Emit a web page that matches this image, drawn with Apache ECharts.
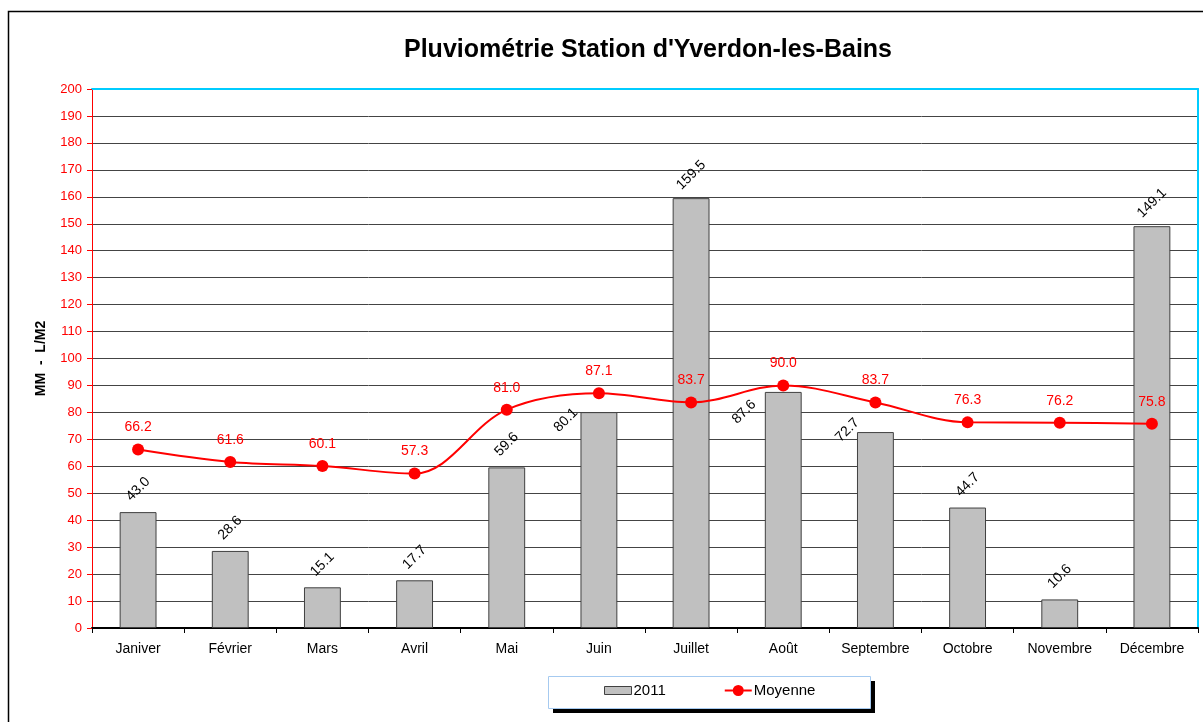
<!DOCTYPE html>
<html>
<head>
<meta charset="utf-8">
<title>Pluviométrie Station d'Yverdon-les-Bains</title>
<script src="https://cdn.jsdelivr.net/npm/echarts@6/dist/echarts.min.js"></script>
<style>
  html, body { margin: 0; padding: 0; background: #fff; }
  #chart { width: 1203px; height: 722px; }
</style>
</head>
<body>
<div id="chart"></div>
<script>
// données mensuelles
const months = ['Janiver', 'Février', 'Mars', 'Avril', 'Mai', 'Juin', 'Juillet', 'Août', 'Septembre', 'Octobre', 'Novembre', 'Décembre']
const rain2011 = [43.0, 28.6, 15.1, 17.7, 59.6, 80.1, 159.5, 87.6, 72.7, 44.7, 10.6, 149.1]
const moyenne = [66.2, 61.6, 60.1, 57.3, 81.0, 87.1, 83.7, 90.0, 83.7, 76.3, 76.2, 75.8]

const FONT = '"Liberation Sans", Arial, sans-serif'
const LABEL_ROTATE = 45

// décalage écran des étiquettes de barres (dx, dy) ; certaines sont poussées à gauche comme dans Excel
const defaultShift = [0, -23]
const shifts = {
  5: [-33, 8],
  7: [-39, 20],
  8: [-28, -2]
}

// l'offset d'une étiquette tournée est appliqué dans son repère local : on le contre-tourne
const toLocal = ([sx, sy]) => {
  const t = LABEL_ROTATE * Math.PI / 180
  return [sx * Math.cos(t) - sy * Math.sin(t), sx * Math.sin(t) + sy * Math.cos(t)]
}

const chart = echarts.init(document.getElementById('chart'))

const barData = rain2011.map((v, i) => ({
  value: v,
  label: { offset: toLocal(shifts[i] || defaultShift) }
}))

// cadre de la légende (avec ombre noire)
const legendBox = { x: 548, y: 676, w: 322, h: 32 }

// icône ligne + rond pour la légende de la moyenne (segments séparés, pas de trou)
const lineIcon = 'path://M0,4.5H8.5V6.5H0Z M18.5,4.5H27V6.5H18.5Z M8,5.5A5.5,5.5 0 1 1 19,5.5A5.5,5.5 0 1 1 8,5.5Z'

const option = {
  animation: false,
  textStyle: { fontFamily: FONT },
  graphic: [
    {
      type: 'rect',
      z: 0,
      shape: { x: 8.5, y: 11.5, width: 1300, height: 800 },
      style: { fill: 'none', stroke: '#000', lineWidth: 1.5 },
      silent: true
    },
    {
      type: 'rect',
      z: 1,
      shape: { x: legendBox.x + 5, y: legendBox.y + 5, width: legendBox.w, height: legendBox.h },
      style: { fill: '#000' },
      silent: true
    },
    {
      type: 'rect',
      z: 2,
      shape: { x: legendBox.x + 0.5, y: legendBox.y + 0.5, width: legendBox.w, height: legendBox.h },
      style: { fill: '#fff', stroke: '#a6caf0', lineWidth: 1 },
      silent: true
    }
  ],
  title: {
    text: "Pluviométrie Station d'Yverdon-les-Bains",
    left: 643,
    textAlign: 'center',
    top: 33,
    textStyle: { fontSize: 25, fontWeight: 'bold', color: '#000', fontFamily: FONT }
  },
  legend: {
    left: 604,
    top: 683,
    padding: 0,
    z: 10,
    itemGap: 59,
    itemWidth: 27,
    itemHeight: 11,
    textStyle: { fontSize: 15, color: '#000', fontFamily: FONT, padding: [0, 0, 0, -3] },
    data: [
      {
        name: '2011',
        icon: 'path://M0,2H27V10H0Z',
        itemStyle: { color: '#c0c0c0', borderColor: '#404040', borderWidth: 1 }
      },
      { name: 'Moyenne', icon: lineIcon, itemStyle: { color: '#ff0000', borderWidth: 0 } }
    ]
  },
  grid: {
    left: 92,
    right: 5,
    top: 89,
    bottom: 94
  },
  xAxis: [
    {
      type: 'category',
      data: months,
      axisLine: { onZero: false, lineStyle: { color: '#000', width: 2 } },
      axisTick: { show: true, length: 5, lineStyle: { color: '#000' } },
      axisLabel: { fontSize: 14, color: '#000', margin: 14, fontFamily: FONT }
    },
    {
      type: 'category',
      position: 'top',
      data: months,
      axisLine: { onZero: false, lineStyle: { color: '#00ccff', width: 2 } },
      axisTick: { show: false },
      axisLabel: { show: false }
    }
  ],
  yAxis: [
    {
      type: 'value',
      min: 0,
      max: 200,
      interval: 10,
      name: 'MM  -  L/M2',
      nameLocation: 'middle',
      nameGap: 44,
      nameTextStyle: { fontSize: 14, fontWeight: 'bold', color: '#000', fontFamily: FONT },
      axisLine: { show: true, onZero: false, lineStyle: { color: '#ff0000', width: 1 } },
      axisTick: { show: true, length: 5, lineStyle: { color: '#ff0000' } },
      axisLabel: { fontSize: 13, color: '#ff0000', margin: 10, fontFamily: FONT },
      splitLine: { show: true, lineStyle: { color: '#444', width: 1 } }
    },
    {
      type: 'value',
      position: 'right',
      min: 0,
      max: 200,
      interval: 10,
      axisLine: { show: true, onZero: false, lineStyle: { color: '#00ccff', width: 2 } },
      axisTick: { show: false },
      axisLabel: { show: false },
      splitLine: { show: false }
    }
  ],
  series: [
    {
      name: '2011',
      type: 'bar',
      barWidth: '40%',
      data: barData,
      itemStyle: { color: '#c0c0c0', borderColor: '#404040', borderWidth: 1 },
      label: {
        show: true,
        position: 'top',
        distance: 0,
        rotate: LABEL_ROTATE,
        align: 'center',
        verticalAlign: 'middle',
        fontSize: 14,
        color: '#000',
        fontFamily: FONT,
        formatter: (p) => p.value.toFixed(1)
      }
    },
    {
      name: 'Moyenne',
      type: 'line',
      data: moyenne,
      smooth: 0.35,
      symbol: 'circle',
      symbolSize: 12,
      z: 5,
      lineStyle: { color: '#ff0000', width: 2 },
      itemStyle: { color: '#ff0000' },
      label: {
        show: true,
        position: 'top',
        distance: 9,
        fontSize: 14,
        color: '#ff0000',
        fontFamily: FONT,
        formatter: (p) => p.value.toFixed(1)
      }
    }
  ]
}

chart.setOption(option)
</script>
</body>
</html>
